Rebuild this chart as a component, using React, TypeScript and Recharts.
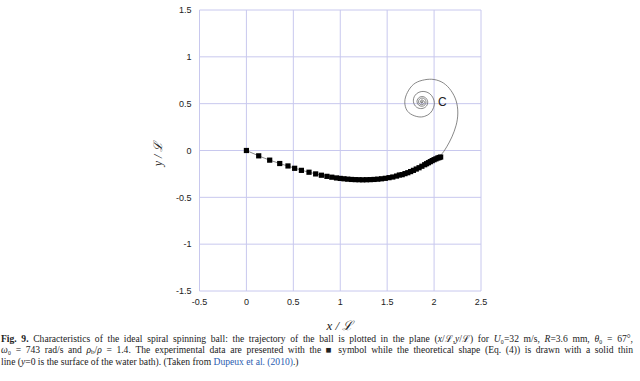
import React from 'react';
import {
  ComposedChart,
  Line,
  Scatter,
  XAxis,
  YAxis,
  CartesianGrid,
  ReferenceDot,
} from 'recharts';

// ── Axis ticks ────────────────────────────────────────────────────────────────
const X_TICKS = [-0.5, 0, 0.5, 1, 1.5, 2, 2.5];
const Y_TICKS = [-1.5, -1, -0.5, 0, 0.5, 1, 1.5];

const expX = [
  0, 0.131, 0.248, 0.355, 0.443, 0.514, 0.586, 0.667, 0.738, 0.799, 0.858,
  0.91, 0.96, 1.0, 1.04, 1.08, 1.12, 1.16, 1.2, 1.24, 1.28, 1.32, 1.36, 1.4,
  1.44, 1.48, 1.52, 1.56, 1.6, 1.63, 1.66, 1.69, 1.72, 1.75, 1.78, 1.81, 1.84,
  1.87, 1.9, 1.92, 1.94, 1.96, 1.98, 2.0, 2.02, 2.04, 2.055, 2.07,
];
const expY = [
  0, -0.057, -0.103, -0.139, -0.165, -0.19, -0.212, -0.232, -0.25, -0.264, -0.276,
  -0.285, -0.293, -0.298, -0.302, -0.306, -0.309, -0.311, -0.312, -0.313, -0.312, -0.311, -0.309, -0.306,
  -0.302, -0.297, -0.29, -0.283, -0.273, -0.262, -0.258, -0.247, -0.237, -0.225, -0.212, -0.198, -0.184,
  -0.168, -0.152, -0.141, -0.13, -0.119, -0.108, -0.098, -0.089, -0.08, -0.075, -0.07,
];

// ── Theoretical shape (Eq. 4), thin solid line ────────────────────────────────
const theoX = [
  0, 0.13, 0.26, 0.39, 0.52, 0.65, 0.78, 0.91, 1.04, 1.17, 1.3, 1.43, 1.56, 1.68, 1.79, 1.9, 1.99, 2.07,
  2.135, 2.19, 2.235, 2.253, 2.235, 2.18, 2.1, 2.0, 1.9, 1.8, 1.73, 1.69, 1.7, 1.75, 1.83, 1.9, 1.96, 1.995, 2.0,
  1.955, 1.87, 1.799, 1.78, 1.813, 1.87, 1.917, 1.932,
  1.911, 1.87, 1.832, 1.818, 1.835, 1.87, 1.903, 1.914,
  1.9, 1.87, 1.843, 1.834, 1.846, 1.87, 1.891, 1.898,
  1.87, 1.854, 1.87, 1.881, 1.87, 1.86, 1.87, 1.879,
];
const theoY = [
  0, -0.057, -0.107, -0.15, -0.19, -0.228, -0.26, -0.285, -0.302, -0.311, -0.312, -0.303, -0.283, -0.25, -0.203, -0.152, -0.103, -0.05,
  0.04, 0.145, 0.27, 0.4, 0.53, 0.64, 0.72, 0.758, 0.755, 0.72, 0.645, 0.545, 0.45, 0.39, 0.36, 0.365, 0.4, 0.46, 0.53,
  0.605, 0.63, 0.591, 0.52, 0.463, 0.448, 0.473, 0.52,
  0.561, 0.576, 0.558, 0.52, 0.485, 0.472, 0.487, 0.52,
  0.55, 0.56, 0.547, 0.52, 0.496, 0.488, 0.499, 0.52,
  0.54, 0.52, 0.507, 0.52, 0.53, 0.52, 0.51, 0.52,
];

const expData = expX.map((x, i) => ({ x, y: expY[i] }));
const theoData = theoX.map((x, i) => ({ x, y: theoY[i] }));

const TICK_STYLE = { fill: '#222', fontSize: 9, fontFamily: 'Liberation Sans, Arial, sans-serif' };
const GRID = '#c8c8ee';

const SquareMarker = (props: any) => {
  const { cx, cy } = props;
  if (cx == null || cy == null) return null;
  return <rect x={cx - 2.6} y={cy - 2.6} width={5.2} height={5.2} fill="#000" />;
};

const L = 'ℒ';

export default function App() {
  return (
    <div
      style={{
        position: 'absolute',
        left: 0,
        top: 0,
        width: 640,
        height: 381,
        background: '#fff',
        overflow: 'hidden',
      }}
    >
      <ComposedChart
        width={640}
        height={332}
        margin={{ top: 10, right: 159, bottom: 0, left: 0 }}
      >
        <CartesianGrid stroke={GRID} strokeWidth={1} />
        <XAxis
          dataKey="x"
          type="number"
          domain={[-0.5, 2.5]}
          ticks={X_TICKS}
          allowDataOverflow
          axisLine={false}
          tickLine={false}
          tick={TICK_STYLE}
          height={41}
          interval={0}
        />
        <YAxis
          dataKey="y"
          type="number"
          domain={[-1.5, 1.5]}
          ticks={Y_TICKS}
          allowDataOverflow
          axisLine={false}
          tickLine={false}
          tick={TICK_STYLE}
          width={199.5}
          interval={0}
        />
        <Line
          data={theoData}
          dataKey="y"
          type="natural"
          stroke="#6a6a6a"
          strokeWidth={0.8}
          dot={false}
          isAnimationActive={false}
        />
        <Scatter
          data={expData}
          dataKey="y"
          shape={<SquareMarker />}
          isAnimationActive={false}
        />
        <ReferenceDot
          x={1.87}
          y={0.52}
          r={0}
          fill="none"
          stroke="none"
          label={{
            value: 'C',
            position: 'right',
            offset: 16,
            fill: '#222',
            fontSize: 12,
            fontFamily: 'Liberation Sans, Arial, sans-serif',
          }}
        />
      </ComposedChart>

      {/* y axis title */}
      <div
        style={{
          position: 'absolute',
          left: 157,
          top: 154,
          transform: 'translate(-50%, -50%) rotate(-90deg)',
          fontFamily: 'Liberation Serif, serif',
          fontStyle: 'italic',
          fontSize: 12,
          whiteSpace: 'nowrap',
          color: '#222',
        }}
      >
        y / {L}
      </div>

      {/* x axis title */}
      <div
        style={{
          position: 'absolute',
          left: 340,
          top: 325,
          transform: 'translate(-50%, -50%)',
          fontFamily: 'Liberation Serif, serif',
          fontStyle: 'italic',
          fontSize: 13,
          whiteSpace: 'nowrap',
          color: '#222',
        }}
      >
        x / {L}
      </div>

      {/* caption */}
      <div
        style={{
          position: 'absolute',
          left: 1,
          top: 334,
          width: 632,
          fontFamily: 'Liberation Serif, serif',
          fontSize: 9.6,
          lineHeight: '10.5px',
          color: '#222',
        }}
      >
        <div style={{ textAlign: 'justify', textAlignLast: 'justify' }}>
          <b>Fig. 9.</b> Characteristics of the ideal spiral spinning ball: the trajectory of the ball is plotted in the plane (<i>x</i>/{L},<i>y</i>/{L}) for <i>U</i>₀=32 m/s, <i>R</i>=3.6 mm, <i>θ</i>₀ = 67°,
        </div>
        <div style={{ textAlign: 'justify', textAlignLast: 'justify' }}>
          <i>ω</i>₀ = 743 rad/s and <i>ρ</i><sub style={{ fontSize: 7, verticalAlign: '-1px' }}>b</sub>/<i>ρ</i> = 1.4. The experimental data are presented with the ■ symbol while the theoretical shape (Eq. (4)) is drawn with a solid thin
        </div>
        <div>
          line (<i>y</i>=0 is the surface of the water bath). (Taken from <span style={{ color: '#2a5db0' }}>Dupeux et al. (2010)</span>.)
        </div>
      </div>
    </div>
  );
}
